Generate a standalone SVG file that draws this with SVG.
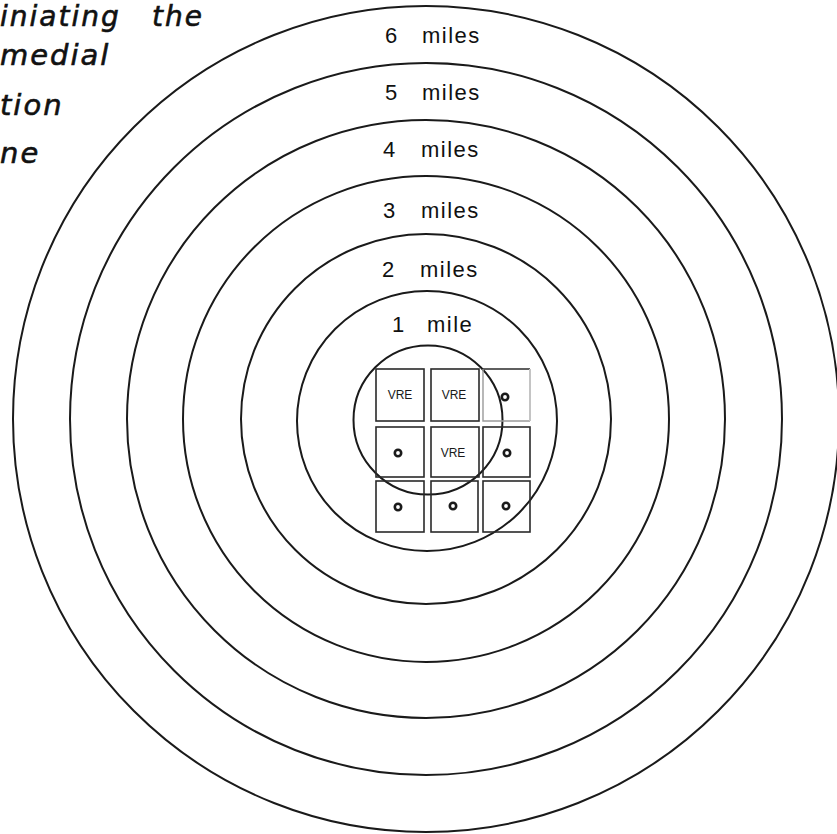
<svg xmlns="http://www.w3.org/2000/svg" width="837" height="834" viewBox="0 0 837 834">
  <style>
    .ring { fill: none; stroke: #1a1a1a; stroke-width: 2; }
    .lbl { font-family: "Liberation Sans", Arial, sans-serif; font-size: 22px; fill: #111111; }
    .miles { letter-spacing: 1.5px; }
    .title { font-family: "DejaVu Sans", sans-serif; font-style: italic; font-size: 29px; letter-spacing: 2px; fill: #111111; stroke: #111111; stroke-width: 0.6; }
    .cell { fill: none; stroke: #2a2a2a; stroke-width: 1.6; }
    .vre { font-family: "Liberation Sans", Arial, sans-serif; font-size: 12px; fill: #1a1a1a; text-anchor: middle; }
    .dot { fill: #ffffff; stroke: #1a1a1a; stroke-width: 2.6; }
  </style>
  <rect width="837" height="834" fill="#ffffff"/>

  <g id="title-text">
    <text class="title" y="26" style="font-size:28px"><tspan x="0">iniating</tspan><tspan x="152">the</tspan></text>
    <text class="title" x="0" y="65">medial</text>
    <text class="title" x="0" y="115">tion</text>
    <text class="title" x="0" y="163">ne</text>
  </g>

  <g id="ring-6"><circle class="ring" cx="426" cy="419" r="413"/></g>
  <g id="ring-5"><circle class="ring" cx="426" cy="419" r="356"/></g>
  <g id="ring-4"><circle class="ring" cx="426" cy="419" r="299"/></g>
  <g id="ring-3"><circle class="ring" cx="426" cy="419" r="243"/></g>
  <g id="ring-2"><circle class="ring" cx="426" cy="419" r="185"/></g>
  <g id="ring-1"><circle class="ring" cx="427" cy="421" r="130"/></g>
  <g id="ring-site"><circle class="ring" cx="428" cy="420" r="74.5"/></g>

  <g id="labels">
    <text class="lbl" y="43"><tspan x="385">6</tspan><tspan class="miles" x="422">miles</tspan></text>
    <text class="lbl" y="100"><tspan x="385">5</tspan><tspan class="miles" x="422">miles</tspan></text>
    <text class="lbl" y="157"><tspan x="383">4</tspan><tspan class="miles" x="421">miles</tspan></text>
    <text class="lbl" y="218"><tspan x="383">3</tspan><tspan class="miles" x="421">miles</tspan></text>
    <text class="lbl" y="277"><tspan x="382">2</tspan><tspan class="miles" x="420">miles</tspan></text>
    <text class="lbl" y="332"><tspan x="392">1</tspan><tspan class="miles" x="427">mile</tspan></text>
  </g>

  <g id="grid">
    <g id="cell-1-1"><rect class="cell" x="376" y="369" width="48" height="52"/><text class="vre" x="400" y="399">VRE</text></g>
    <g id="cell-1-2"><rect class="cell" x="431" y="369" width="48" height="52"/><text class="vre" x="454" y="399">VRE</text></g>
    <g id="cell-1-3">
      <line x1="483" y1="369" x2="530" y2="369" stroke="#2a2a2a" stroke-width="1.6"/>
      <polyline points="483,369 483,421 530,421" fill="none" stroke="#9a9a9a" stroke-width="1.4"/>
      <line x1="530" y1="369" x2="530" y2="421" stroke="#c4c4c4" stroke-width="2"/>
      <circle class="dot" cx="505" cy="397" r="3.2"/>
    </g>
    <g id="cell-2-1"><rect class="cell" x="376" y="427" width="48" height="50"/><circle class="dot" cx="398" cy="453" r="3.2"/></g>
    <g id="cell-2-2"><rect class="cell" x="431" y="427" width="48" height="50"/><text class="vre" x="453" y="457">VRE</text></g>
    <g id="cell-2-3"><rect class="cell" x="483" y="427" width="47" height="50"/><circle class="dot" cx="507" cy="453" r="3.2"/></g>
    <g id="cell-3-1"><rect class="cell" x="376" y="481" width="48" height="51"/><circle class="dot" cx="398" cy="507" r="3.2"/></g>
    <g id="cell-3-2"><rect class="cell" x="431" y="481" width="47" height="51"/><circle class="dot" cx="453" cy="506" r="3.2"/></g>
    <g id="cell-3-3"><rect class="cell" x="483" y="481" width="47" height="51"/><circle class="dot" cx="506" cy="506" r="3.2"/></g>
  </g>
</svg>
